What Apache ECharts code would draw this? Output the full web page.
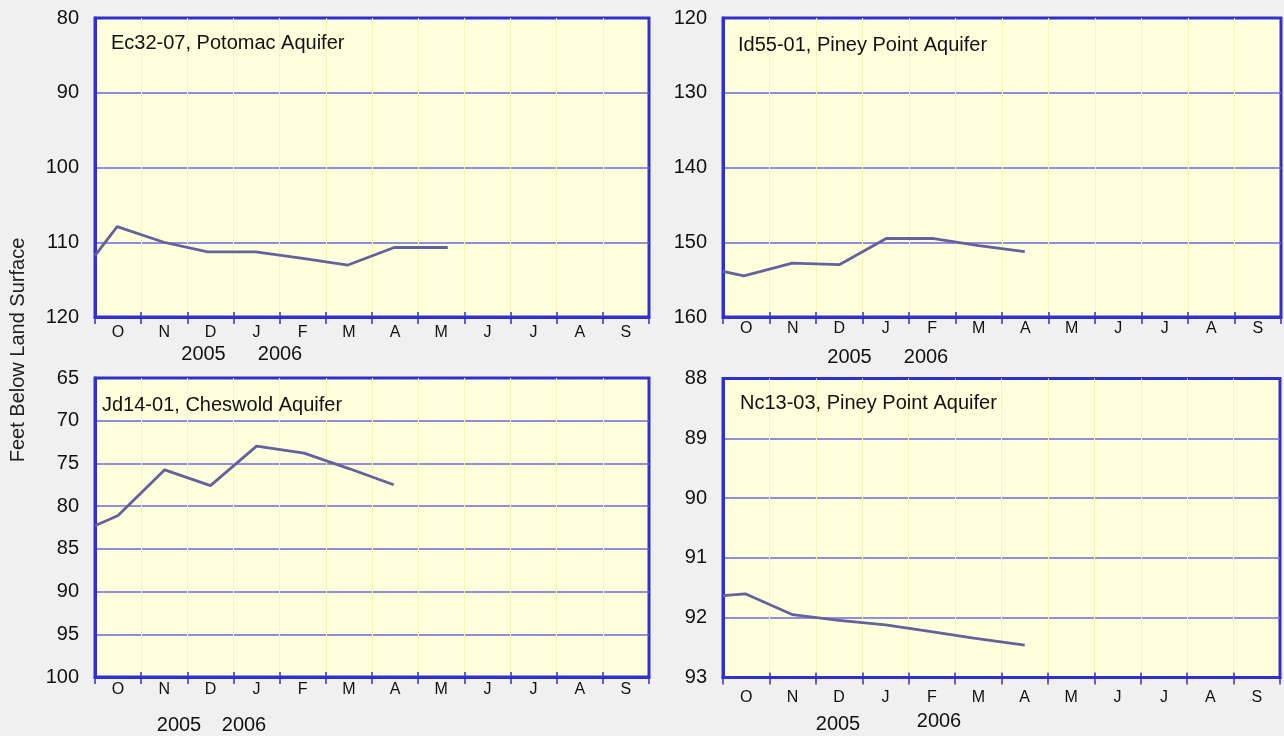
<!DOCTYPE html>
<html>
<head>
<meta charset="utf-8">
<script src="https://cdn.jsdelivr.net/npm/echarts@6/dist/echarts.min.js"></script>
<style>
html,body{margin:0;padding:0;background:#f0f0f0;}
#chart{width:1284px;height:736px;}
</style>
</head>
<body>
<div id="chart"></div>
<script>
// ---- data ----
const monthLabels = ['O','N','D','J','F','M','A','M','J','J','A','S'];
const yearLabels = ['2005','2006'];
const yAxisTitle = 'Feet Below Land Surface';

// x = months elapsed since 1 Oct 2005, y = depth to water (feet below land surface)
const ec3207Month = [0, 0.48, 1.49, 2.44, 3.48, 4.5, 5.48, 6.48, 7.64];
const ec3207Depth = [111.8, 107.9, 110.0, 111.3, 111.3, 112.15, 113.05, 110.7, 110.7];

const id5501Month = [0, 0.45, 1.49, 2.5, 3.51, 4.53, 5.5, 6.49];
const id5501Depth = [153.9, 154.5, 152.8, 153.0, 149.5, 149.5, 150.45, 151.25];

const jd1401Month = [0, 0.5, 1.51, 2.5, 3.5, 4.53, 5.5, 6.47];
const jd1401Depth = [82.3, 81.1, 75.75, 77.6, 72.97, 73.8, 75.6, 77.5];

const nc1303Month = [0, 0.48, 1.5, 2.45, 3.5, 4.45, 5.4, 6.5];
const nc1303Depth = [91.63, 91.60, 91.95, 92.04, 92.12, 92.23, 92.34, 92.46];

const wellNames = ['Ec32-07, Potomac Aquifer', 'Id55-01, Piney Point Aquifer',
                   'Jd14-01, Cheswold Aquifer', 'Nc13-03, Piney Point Aquifer'];

// ---- layout / styling ----
const FONT = '"Liberation Sans", Arial, Helvetica, sans-serif';
const BORDER = '#3030d0';
const panels = [
  {grid:{left:95, top:18, width:554, height:299}, min:80, max:120, step:10,
   xs:ec3207Month, ys:ec3207Depth, name:wellNames[0], lx:111, ly:43.5, lm:8,
   yr:[[203.5,354],[280,354]]},
  {grid:{left:723, top:18, width:558, height:299}, min:120, max:160, step:10,
   xs:id5501Month, ys:id5501Depth, name:wellNames[1], lx:738, ly:45.5, lm:4,
   yr:[[849.5,357.5],[926,357.5]]},
  {grid:{left:95, top:378, width:554, height:299}, min:65, max:100, step:5,
   xs:jd1401Month, ys:jd1401Depth, name:wellNames[2], lx:102, ly:405.5, lm:5,
   yr:[[179,725],[244,725]]},
  {grid:{left:723, top:378.5, width:557, height:299}, min:88, max:93, step:1,
   xs:nc1303Month, ys:nc1303Depth, name:wellNames[3], lx:740, ly:403.5, lm:12,
   yr:[[838,724.5],[939,721]]}
];

const grids = [], xAxes = [], yAxes = [], series = [], graphics = [];
panels.forEach((p, i) => {
  grids.push(Object.assign({show:true, backgroundColor:'#ffffdc', borderColor:BORDER, borderWidth:3, containLabel:false}, p.grid));
  // value axis for data positions (month boundaries)
  xAxes.push({type:'value', gridIndex:i, min:0, max:12, interval:1, position:'bottom',
    axisLine:{show:true, onZero:false, lineStyle:{color:BORDER, width:3}},
    axisTick:{show:true, inside:true, length:5, lineStyle:{color:BORDER, width:1.5}},
    axisLabel:{show:false},
    splitLine:{show:true, showMinLine:false, showMaxLine:false, lineStyle:{color:'#f4f4bc', width:1}}
  });
  // category axis for month labels
  xAxes.push({type:'category', gridIndex:i, data:monthLabels, boundaryGap:true, position:'bottom',
    axisLine:{show:false},
    axisTick:{show:true, inside:false, length:7, interval:0, lineStyle:{color:BORDER, width:1.5}},
    axisLabel:{show:true, interval:0, fontSize:16, fontFamily:FONT, color:'#111', margin:p.lm},
    splitLine:{show:false}
  });
  yAxes.push({type:'value', gridIndex:i, min:p.min, max:p.max, interval:p.step, inverse:true,
    axisLine:{show:true, onZero:false, lineStyle:{color:BORDER, width:3}}, axisTick:{show:false},
    axisLabel:{fontSize:20, fontFamily:FONT, color:'#111', margin:16},
    splitLine:{show:true, showMinLine:false, showMaxLine:false, lineStyle:{color:'#6a6ada', width:1.5}}
  });
  series.push({type:'line', xAxisIndex:2*i, yAxisIndex:i,
    data:p.xs.map((x, k) => [x, p.ys[k]]),
    symbol:'none', showSymbol:false, clip:true,
    lineStyle:{color:'#62629f', width:2.8}, z:5
  });
  graphics.push({type:'text', x:p.lx, y:p.ly, z:10,
    style:{text:p.name, font:'20px ' + FONT, fill:'#111', align:'left', verticalAlign:'middle'}});
  p.yr.forEach((pos, k) => {
    graphics.push({type:'text', x:pos[0], y:pos[1], z:10,
      style:{text:yearLabels[k], font:'20px ' + FONT, fill:'#111', align:'center', verticalAlign:'middle'}});
  });
});
graphics.push({type:'text', x:18.5, y:350, rotation:Math.PI/2, z:10,
  style:{text:yAxisTitle, font:'20px ' + FONT, fill:'#222', align:'center', verticalAlign:'middle'}});

const chart = echarts.init(document.getElementById('chart'), null, {renderer:'canvas'});
chart.setOption({
  backgroundColor:'#f0f0f0',
  animation:false,
  grid:grids, xAxis:xAxes, yAxis:yAxes, series:series, graphic:graphics
});
</script>
</body>
</html>
